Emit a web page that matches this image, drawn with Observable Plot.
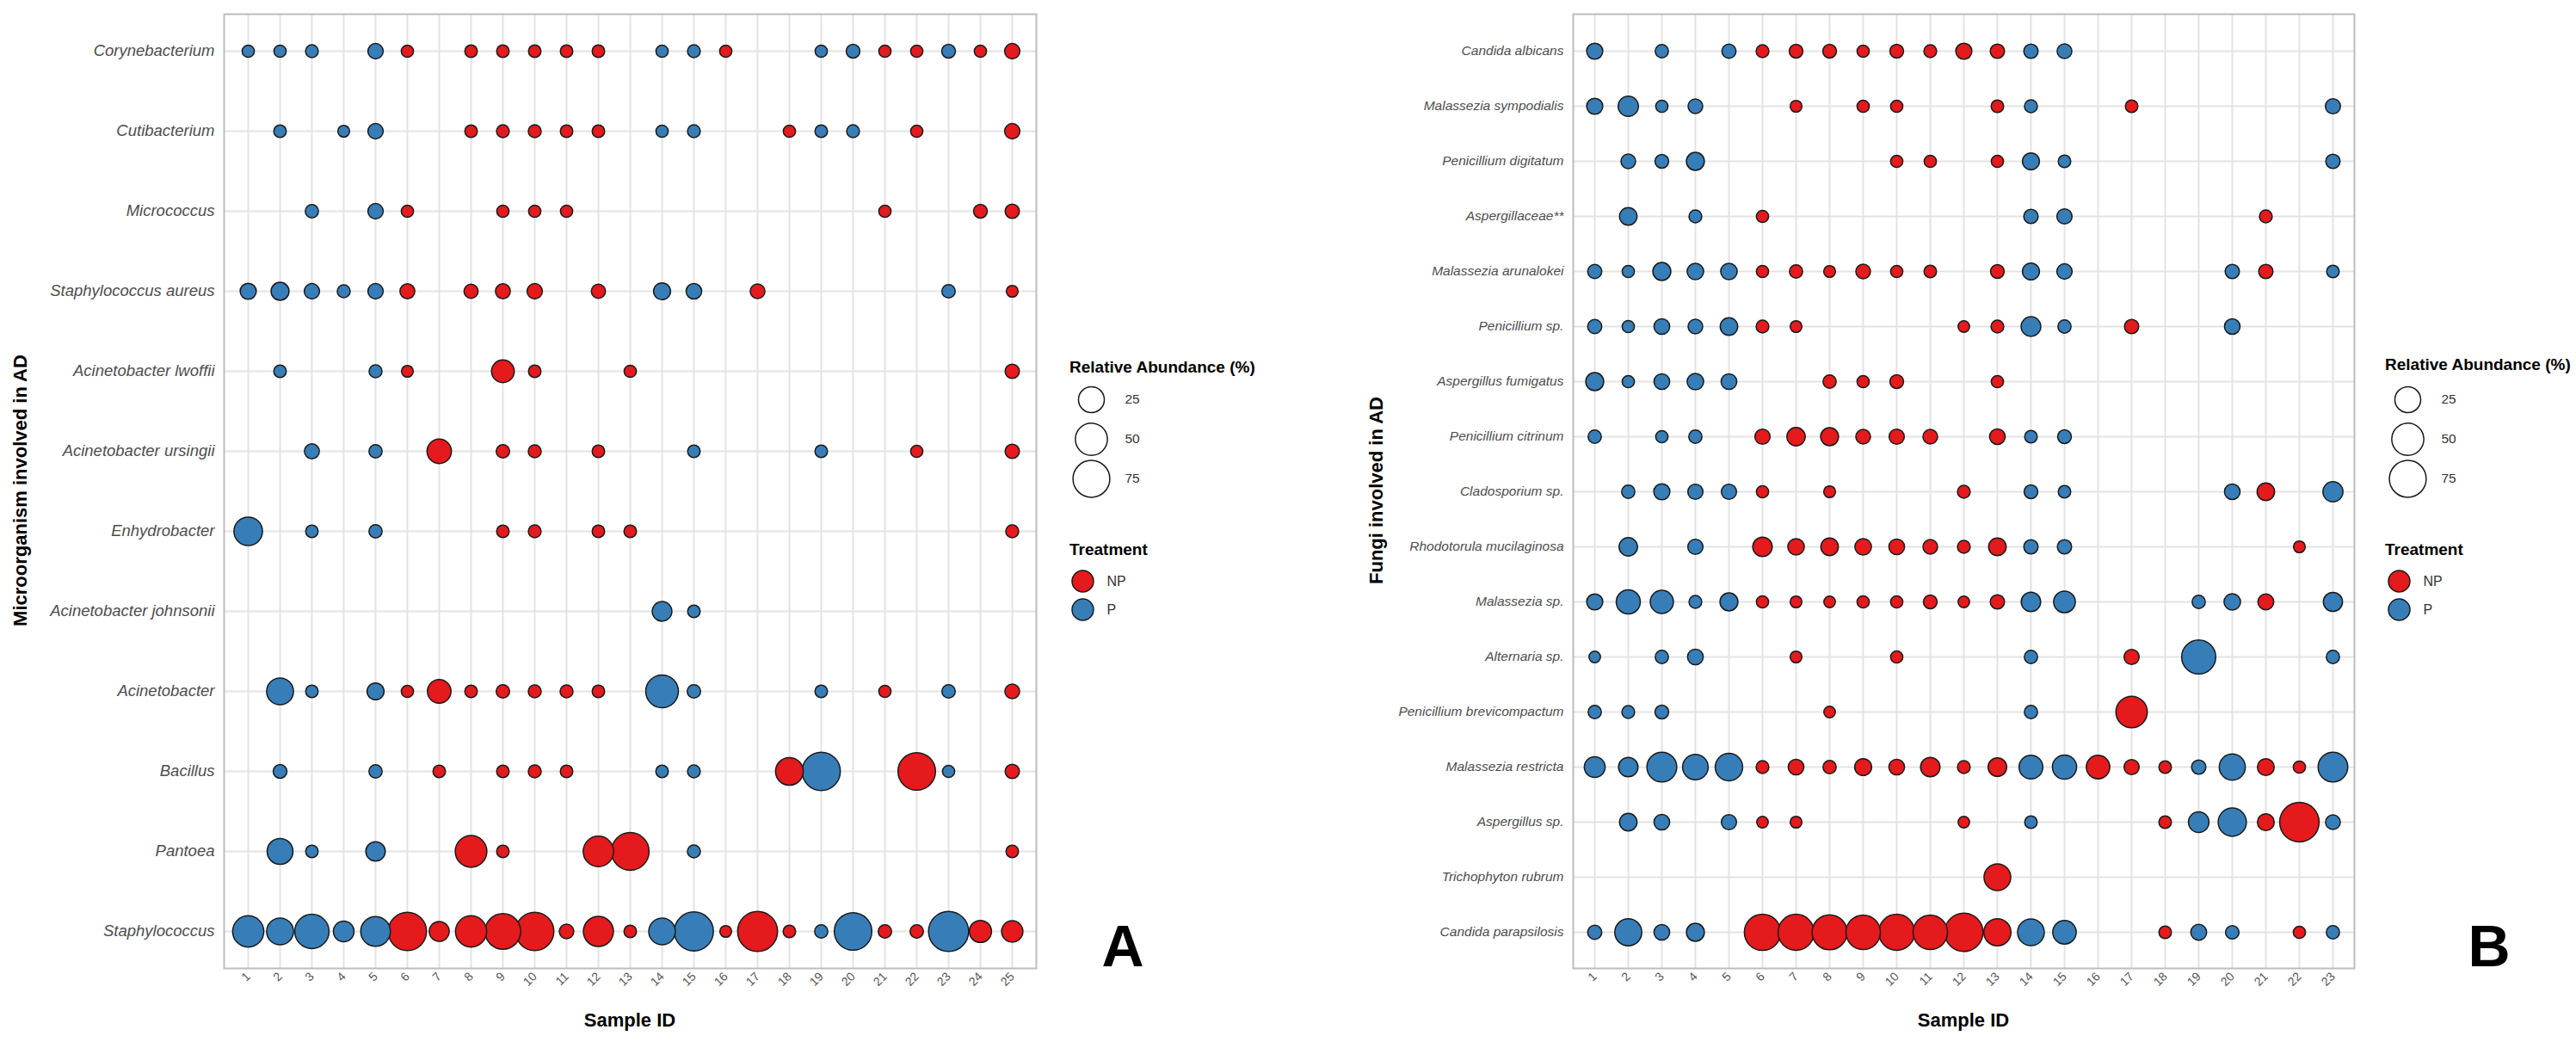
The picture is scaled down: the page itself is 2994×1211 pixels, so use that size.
<!DOCTYPE html>
<html><head><meta charset="utf-8">
<script src="https://cdn.jsdelivr.net/npm/d3@7"></script>
<script src="https://cdn.jsdelivr.net/npm/@observablehq/plot@0.6"></script>
<style>
body{margin:0;background:#fff;}
#page{position:relative;width:2994px;height:1211px;background:#fff;font-family:"Liberation Sans",Arial,sans-serif;overflow:hidden;color:#000}
.abs{position:absolute;line-height:1;white-space:nowrap}
.ytitle{font-weight:bold;font-size:22px;transform:translate(-50%,-50%) rotate(-90deg)}
.xtitle{font-weight:bold;font-size:22px;transform:translate(-50%,0)}
.panel{font-weight:bold;font-size:68px;transform:translate(-50%,0)}
.ltitle{font-weight:bold;font-size:19px}
</style></head>
<body><div id="page"></div>
<script>
const _ = null;
// ---------- Panel A: bacteria ----------
const samplesA = [1,2,3,4,5,6,7,8,9,10,11,12,13,14,15,16,17,18,19,20,21,22,23,24,25];
const treatmentA = ["P","P","P","P","P","NP","NP","NP","NP","NP","NP","NP","NP","P","P","NP","NP","NP","P","P","NP","NP","P","NP","NP"];
const taxaA = ["Corynebacterium","Cutibacterium","Micrococcus","Staphylococcus aureus","Acinetobacter lwoffii","Acinetobacter ursingii","Enhydrobacter","Acinetobacter johnsonii","Acinetobacter","Bacillus","Pantoea","Staphylococcus"];
const corynebacterium = [0.2,0.2,0.4,_,2.2, 0.2,_,0.3,0.3,0.3, 0.3,0.3,_,0.2,0.4, 0.2,_,_,0.2,0.9, 0.2,0.2,0.9,0.2,2.2];
const cutibacterium   = [_,0.3,_,0.1,2.2, _,_,0.3,0.4,0.5, 0.3,0.3,_,0.2,0.4, _,_,0.2,0.3,0.4, _,0.2,_,_,2.2];
const micrococcus     = [_,_,0.6,_,2.2, 0.2,_,_,0.2,0.2, 0.2,_,_,_,_, _,_,_,_,_, 0.2,_,_,0.9,1.3];
const staphAureus     = [3.1,5.6,2.2,0.5,2.2, 1.8,_,1.2,1.8,2.2, _,1.2,_,4.2,2.5, _,1.7,_,_,_, _,_,0.7,_,0.1];
const acinLwoffii     = [_,0.3,_,_,0.5, 0.1,_,_,15.7,0.3, _,_,0.2,_,_, _,_,_,_,_, _,_,_,_,1.3];
const acinUrsingii    = [_,_,1.8,_,0.6, _,20.4,_,0.7,0.5, _,0.3,_,_,0.3, _,_,_,0.3,_, _,0.2,_,_,1.3];
const enhydrobacter   = [34.7,_,0.3,_,0.6, _,_,_,0.3,0.4, _,0.3,0.3,_,_, _,_,_,_,_, _,_,_,_,0.5];
const acinJohnsonii   = [_,_,_,_,_, _,_,_,_,_, _,_,_,8.7,0.3, _,_,_,_,_, _,_,_,_,_];
const acinetobacter   = [_,28.5,0.3,_,4.2, 0.2,17.9,0.3,0.7,0.5, 0.5,0.3,_,52.8,0.7, _,_,_,0.3,_, 0.2,_,0.7,_,1.7];
const bacillus        = [_,0.9,_,_,0.6, _,0.3,_,0.3,0.5, 0.3,_,_,0.3,0.4, _,_,31.6,83,_, _,79,0.2,_,1.3];
const pantoea         = [_,25,0.3,_,8.2, _,_,48,0.3,_, _,42.5,80,_,0.5, _,_,_,_,_, _,_,_,_,0.3];
const staphylococcus  = [46,28.5,61,10.7,39.4, 83.5,9.2,46,68,83.5, 1.5,41,0.3,27.6,88, 0.1,94,0.3,0.6,79, 0.7,0.7,95,14.2,12.2];
const rowsA = [corynebacterium,cutibacterium,micrococcus,staphAureus,acinLwoffii,acinUrsingii,enhydrobacter,acinJohnsonii,acinetobacter,bacillus,pantoea,staphylococcus];

// ---------- Panel B: fungi ----------
const samplesB = [1,2,3,4,5,6,7,8,9,10,11,12,13,14,15,16,17,18,19,20,21,22,23];
const treatmentB = ["P","P","P","P","P","NP","NP","NP","NP","NP","NP","NP","NP","P","P","NP","NP","NP","P","P","NP","NP","P"];
const taxaB = ["Candida albicans","Malassezia sympodialis","Penicillium digitatum","Aspergillaceae**","Malassezia arunalokei","Penicillium sp.","Aspergillus fumigatus","Penicillium citrinum","Cladosporium sp.","Rhodotorula mucilaginosa","Malassezia sp.","Alternaria sp.","Penicillium brevicompactum","Malassezia restricta","Aspergillus sp.","Trichophyton rubrum","Candida parapsilosis"];
const candidaAlbicans = [3.1,_,0.6,_,1.2, 0.4,0.9,0.9,0.2,0.9, 0.4,3.1,1.3,1.3,1.7, _,_,_,_,_, _,_,_];
const malSympodialis  = [3.1,9.9,0.2,1.6,_, _,0.1,_,0.2,0.2, _,_,0.3,0.5,_, _,0.3,_,_,_, _,_,2];
const penDigitatum    = [_,1.6,0.9,5.6,_, _,_,_,_,0.2, 0.2,_,0.2,4.2,0.3, _,_,_,_,_, _,_,1.3];
const aspergillaceae  = [_,4.9,_,0.4,_, 0.2,_,_,_,_, _,_,_,1.3,2, _,_,_,_,_, 0.4,_,_];
const malArunalokei   = [1.2,0.2,5.6,3.6,3.6, 0.2,0.6,0.1,1.6,0.2, 0.3,_,0.9,4.2,2.2, _,_,_,_,1.3, 1.3,_,0.3];
const penicilliumSp   = [1.2,0.2,2.6,1.6,4.9, 0.4,0.1,_,_,_, _,0.05,0.4,8.7,0.6, _,1.3,_,_,2.5, _,_,_];
const aspFumigatus    = [5.6,0.2,2.6,3.6,2.6, _,_,0.6,0.2,0.9, _,_,0.2,_,_, _,_,_,_,_, _,_,_];
const penCitrinum     = [0.6,_,0.2,0.6,_, 2.1,6.4,5.6,1.6,2.1, 1.6,_,2.5,0.3,0.9, _,_,_,_,_, _,_,_];
const cladosporiumSp  = [_,0.6,3.1,2.1,2.1, 0.2,_,0.1,_,_, _,0.4,_,0.9,0.3, _,_,_,_,2.5, 4.9,_,9.4];
const rhodotorula     = [_,6.4,_,2.1,_, 8.2,3.6,4.9,3.6,2.6, 1.6,0.4,5,1.3,1.3, _,_,_,_,_, _,0.1,_];
const malasseziaSp    = [3.1,19.5,17,0.4,5.6, 0.2,0.1,0.05,0.2,0.2, 0.9,0.05,1.3,8.2,13, _,_,_,0.6,3.6, 2.8,_,7.6];
const alternariaSp    = [0.05,_,0.6,2.6,_, _,0.1,_,_,0.2, _,_,_,0.6,_, _,2,_,60,_, _,_,0.6];
const penBrevicomp    = [0.6,0.4,0.9,_,_, _,_,0.05,_,_, _,_,_,0.6,_, _,47,_,_,_, _,_,_];
const malRestricta    = [11.1,8.2,40,24,30.6, 0.4,2.6,0.6,4.2,2.6, 8.2,0.4,6.7,18.7,19.8, 17.7,2,0.3,1.3,25.7, 4,0.2,39.4];
const aspergillusSp   = [_,4.9,2.6,_,2.1, 0.05,0.1,_,_,_, _,0.05,_,0.3,_, _,_,0.3,10.4,33.5, 4,91,1.7];
const trichophyton    = [_,_,_,_,_, _,_,_,_,_, _,_,28,_,_, _,_,_,_,_, _,_,_];
const candidaPara     = [1.2,29,2.6,5.6,_, 72,70,65,62,70, 62,84,29.5,28,17.7, _,_,0.3,2.8,0.8, _,0.2,0.6];
const rowsB = [candidaAlbicans,malSympodialis,penDigitatum,aspergillaceae,malArunalokei,penicilliumSp,aspFumigatus,penCitrinum,cladosporiumSp,rhodotorula,malasseziaSp,alternariaSp,penBrevicomp,malRestricta,aspergillusSp,trichophyton,candidaPara];

// legends
const sizeKeys = [25, 50, 75];
const treatments = ["NP", "P"];

const FONT = "Liberation Sans, Arial, sans-serif";
const rScale = {type: "sqrt", domain: [0, 95], range: [6.3, 23.3]};
const colorScale = {domain: treatments, range: ["#E41A1C", "#377EB8"]};
const page = document.getElementById("page");

function place(node, left, top) {
  const d = document.createElement("div");
  d.style.position = "absolute"; d.style.left = left + "px"; d.style.top = top + "px";
  d.appendChild(node); page.appendChild(d); return d;
}
function label(text, cls, left, top) {
  const d = document.createElement("div");
  d.className = "abs " + cls; d.textContent = text;
  d.style.left = left + "px"; d.style.top = top + "px";
  page.appendChild(d);
}

function panel({taxa, rows, samples, treatment, width, marginLeft, marginRight, ypad, yFont}) {
  const data = [];
  taxa.forEach((t, i) => rows[i].forEach((v, j) => {
    if (v != null) data.push({taxon: t, sample: samples[j], value: v, treatment: treatment[j]});
  }));
  const svg = Plot.plot({
    width, height: 1211, marginLeft, marginRight, marginTop: 16, marginBottom: 86,
    style: {background: "#fff", fontFamily: FONT},
    x: {type: "point", domain: samples, padding: 0.5},
    y: {type: "point", domain: taxa, padding: ypad},
    r: rScale,
    color: colorScale,
    marks: [
      Plot.gridX({stroke: "#e3e3e3", strokeOpacity: 1, strokeWidth: 2}),
      Plot.gridY({stroke: "#e3e3e3", strokeOpacity: 1, strokeWidth: 2}),
      Plot.frame({stroke: "#bdbdbd", strokeWidth: 2}),
      Plot.axisX({tickSize: 0, tickPadding: 7, tickRotate: -45, fontSize: 14, color: "#555", label: null}),
      Plot.axisY({tickSize: 0, tickPadding: 11, fontSize: yFont, color: "#4d4d4d", label: null}),
      Plot.dot(data, {x: "sample", y: "taxon", r: "value", fill: "treatment", stroke: "#1a1a1a", strokeWidth: 1.5})
    ]
  });
  d3.select(svg).selectAll('g[aria-label="y-axis tick label"] text').style("font-style", "italic");
  return svg;
}

function sizeLegend() {
  return Plot.plot({
    width: 150, height: 170, margin: 0,
    style: {background: "transparent", fontFamily: FONT},
    x: {domain: [0, 1], range: [43, 82], axis: null},
    y: {type: "point", domain: sizeKeys.map(String), range: [44, 136], padding: 0, axis: null},
    r: rScale,
    marks: [
      Plot.dot(sizeKeys, {x: () => 0, y: d => String(d), r: d => d, fill: "none", stroke: "#1a1a1a", strokeWidth: 1.5}),
      Plot.text(sizeKeys, {x: () => 1, y: d => String(d), text: d => String(d), textAnchor: "start", fontSize: 15.5, fill: "#333"})
    ]
  });
}
function treatLegend() {
  return Plot.plot({
    width: 150, height: 100, margin: 0,
    style: {background: "transparent", fontFamily: FONT},
    x: {domain: [0, 1], range: [33, 61], axis: null},
    y: {type: "point", domain: treatments, range: [35, 68], padding: 0, axis: null},
    color: colorScale,
    marks: [
      Plot.dot(treatments, {x: () => 0, y: d => d, r: 12.5, fill: d => d, stroke: "#1a1a1a", strokeWidth: 1.5}),
      Plot.text(treatments, {x: () => 1, y: d => d, text: d => d, textAnchor: "start", fontSize: 16, fill: "#333"})
    ]
  });
}

// Panel A
place(panel({taxa: taxaA, rows: rowsA, samples: samplesA, treatment: treatmentA, width: 1215, marginLeft: 260, marginRight: 11, ypad: 0.44, yFont: 18.5}), 0, 0);
label("Microorganism involved in AD", "ytitle", 24, 570);
label("Sample ID", "xtitle", 732, 1175);
label("A", "panel", 1305, 1065);
label("Relative Abundance (%)", "ltitle", 1243, 417);
place(sizeLegend(), 1225, 420);
label("Treatment", "ltitle", 1243, 629);
place(treatLegend(), 1225, 640);

// Panel B
place(panel({taxa: taxaB, rows: rowsB, samples: samplesB, treatment: treatmentB, width: 1245, marginLeft: 328, marginRight: 9, ypad: 0.64, yFont: 15.5}), 1500, 0);
label("Fungi involved in AD", "ytitle", 1600, 570);
label("Sample ID", "xtitle", 2282, 1175);
label("B", "panel", 2893, 1065);
label("Relative Abundance (%)", "ltitle", 2772, 414);
place(sizeLegend(), 2755, 420);
label("Treatment", "ltitle", 2772, 629);
place(treatLegend(), 2755, 640);
</script></body></html>
